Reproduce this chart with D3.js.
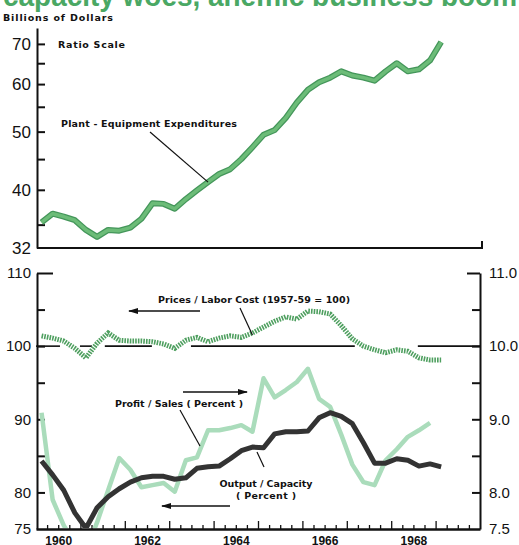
<!DOCTYPE html>
<html>
<head>
<meta charset="utf-8">
<script src="https://cdn.jsdelivr.net/npm/d3@7"></script>
<style>
  body { margin: 0; background: #fff; }
  svg { display: block; }
  text { font-family: "Liberation Sans", Arial, sans-serif; }
  text.note { font-family: "DejaVu Sans", sans-serif; font-weight: bold; }
</style>
</head>
<body>
<svg id="chart" width="519" height="545"></svg>
<script>
// quarterly observations, 1960 Q1 .. 1969 Q1
const years = [1960, 1961, 1962, 1963, 1964, 1965, 1966, 1967, 1968, 1969];
const quarters = [1, 2, 3, 4];

// billions of dollars (ratio scale)
const plantEquip = [35.3, 36.5, 36.1, 35.6, 34.3, 33.4, 34.3, 34.2, 34.6, 35.8,
  38.0, 37.9, 37.2, 38.6, 39.9, 41.2, 42.5, 43.3, 45.0, 47.1,
  49.4, 50.3, 52.7, 55.9, 58.7, 60.4, 61.5, 63.0, 62.0, 61.5,
  60.8, 63.0, 65.0, 63.0, 63.5, 65.7, 70.5];

// index, 1957-59 = 100
const pricesLabor = [101.4, 101.1, 100.7, 99.7, 98.4, 100.4, 101.8, 100.8, 100.7, 100.7,
  100.6, 100.3, 99.7, 100.8, 101.2, 100.6, 101.1, 101.4, 101.2, 101.8,
  102.6, 103.4, 104.0, 103.7, 104.8, 104.7, 104.4, 102.8, 101.0, 100.0,
  99.5, 99.1, 99.5, 99.3, 98.4, 98.1, 98.1];

// percent
const outputCapacity = [84.3, 82.4, 80.3, 77.2, 75.1, 77.9, 79.4, 80.5, 81.4, 82.0,
  82.2, 82.2, 81.8, 82.0, 83.3, 83.5, 83.6, 84.6, 85.7, 86.2,
  86.1, 88.0, 88.3, 88.3, 88.4, 90.2, 90.9, 90.4, 89.4, 86.8,
  84.0, 84.0, 84.6, 84.4, 83.6, 83.9, 83.5];

// percent, through 1968 Q4 (right scale)
const profitSales = [9.09, 7.90, 7.55, 7.30, 7.20, 7.59, 8.03, 8.47, 8.31, 8.07,
  8.10, 8.13, 8.01, 8.44, 8.48, 8.85, 8.85, 8.88, 8.92, 8.83,
  9.56, 9.30, 9.40, 9.51, 9.69, 9.28, 9.17, 8.79, 8.38, 8.14,
  8.10, 8.44, 8.59, 8.76, 8.85, 8.95];

// stretches of the 100 reference line (years)
const refSegments = [[1960.0, 1960.54], [1960.99, 1961.26], [1961.55, 1962.61],
  [1963.49, 1967.18], [1968.6, 1970.0]];

const topTicks = [35, 40, 45, 50, 55, 60, 65, 70];
const topLabels = [40, 50, 60, 70];
const leftTicks = [80, 85, 90, 95, 100, 105, 110];
const rightTicks = [8.0, 8.5, 9.0, 9.5, 10.0, 10.5, 11.0];
const yearLabels = [1960, 1962, 1964, 1966, 1968];

const periods = [];
years.forEach(y => quarters.forEach(q => periods.push(y + (q - 0.5) / 4)));

const svg = d3.select("#chart");
const green = "#4aa864";

// scales
const x = d3.scaleLinear().domain([1960, 1970]).range([36, 480]);
const yTop = d3.scaleLog().domain([32, 74.4]).range([248, 28]);
const yBot = d3.scaleLinear().domain([75, 110]).range([529, 273]);
const yRight = d3.scaleLinear().domain([7.5, 11]).range([529, 273]);

const note = (g, tx, ty, s, len, anchor) => g.append("text")
  .attr("class", "note")
  .attr("x", tx).attr("y", ty).attr("text-anchor", anchor || "start")
  .attr("font-size", 9.5).attr("fill", "#111")
  .attr("textLength", len)
  .text(s);

// headline, cut off at top
svg.append("text")
  .attr("x", 3).attr("y", 6)
  .attr("font-size", 30).attr("font-weight", "bold")
  .attr("fill", green)
  .attr("textLength", 514).attr("lengthAdjust", "spacingAndGlyphs")
  .text("capacity woes, anemic business boom");

note(svg, 3, 21, "Billions of Dollars", 110);

// ---- top panel ----
const upper = svg.append("g");
const topAxis = upper.append("g")
  .attr("transform", `translate(${x(1960) + 1},0)`)
  .call(d3.axisLeft(yTop)
    .tickValues(topTicks)
    .tickSize(-8).tickSizeOuter(0).tickPadding(6)
    .tickFormat(d => topLabels.includes(d) ? d : ""));
topAxis.append("text")
  .attr("x", -6).attr("y", yTop(32)).attr("dy", "0.35em")
  .attr("text-anchor", "end")
  .text("32");
topAxis.selectAll("text").attr("font-size", 17).attr("fill", "#111");
topAxis.selectAll("path,line").attr("stroke", "#111").attr("stroke-width", 2);

upper.append("path")
  .attr("d", d3.line()([[x(1960) + 1, yTop(32)], [x(1970) + 2, yTop(32)], [x(1970) + 2, yTop(32) - 7]]))
  .attr("fill", "none").attr("stroke", "#111").attr("stroke-width", 2);

const lineTop = d3.line()
  .x((d, i) => x(periods[i]))
  .y(d => yTop(d));
upper.append("path").datum(plantEquip)
  .attr("d", lineTop).attr("fill", "none")
  .attr("stroke", "#44965a").attr("stroke-width", 6)
  .attr("stroke-linejoin", "round");
upper.append("path").datum(plantEquip)
  .attr("d", lineTop).attr("fill", "none")
  .attr("stroke", "#6cbc78").attr("stroke-width", 3.5)
  .attr("stroke-linejoin", "round");

note(upper, 58, 48, "Ratio Scale", 67);
note(upper, 61, 127, "Plant - Equipment  Expenditures", 176);
upper.append("line")
  .attr("x1", 150).attr("y1", 132).attr("x2", x(periods[15])).attr("y2", yTop(plantEquip[15]))
  .attr("stroke", "#111").attr("stroke-width", 1.2);

// ---- bottom panel ----
const lower = svg.append("g");

const leftAxis = lower.append("g")
  .attr("transform", `translate(${x(1960) + 1},0)`)
  .call(d3.axisLeft(yBot)
    .tickValues(leftTicks)
    .tickSize(-8).tickSizeOuter(0).tickPadding(6)
    .tickFormat(d => d % 10 === 0 ? d : ""));
leftAxis.append("text")
  .attr("x", -6).attr("y", yBot(75)).attr("dy", "0.35em")
  .attr("text-anchor", "end")
  .text("75");
leftAxis.selectAll(".tick").filter(d => d === 110).select("line").attr("x2", 16);

const rightAxis = lower.append("g")
  .attr("transform", `translate(${x(1970)},0)`)
  .call(d3.axisRight(yRight)
    .tickValues(rightTicks)
    .tickSize(-8).tickSizeOuter(0).tickPadding(9)
    .tickFormat(d => Number.isInteger(d) ? d3.format(".1f")(d) : ""));
rightAxis.append("text")
  .attr("x", 9).attr("y", yRight(7.5)).attr("dy", "0.35em")
  .text("7.5");
rightAxis.selectAll(".tick").filter(d => d === 11).select("line").attr("x2", -13);

[leftAxis, rightAxis].forEach(a => {
  a.selectAll("text").attr("font-size", 15).attr("fill", "#111");
  a.selectAll("path,line").attr("stroke", "#111").attr("stroke-width", 2);
});

// time axis
const quarterTicks = d3.range(40).map(i => 1960 + i / 4).filter(d => d > 1960);
const xAxis = lower.append("g")
  .attr("transform", `translate(0,${yBot(75)})`)
  .call(d3.axisBottom(x).tickValues(quarterTicks).tickSize(-4).tickSizeOuter(0).tickFormat(""));
xAxis.selectAll(".tick").filter(d => Number.isInteger(d)).select("line").attr("y2", -8);
xAxis.selectAll("path,line").attr("stroke", "#111");
xAxis.select("path").attr("stroke-width", 2.5);
xAxis.selectAll("line").attr("stroke-width", 1.3);

lower.append("g")
  .attr("transform", `translate(0,${yBot(75)})`)
  .call(d3.axisBottom(x).tickValues(yearLabels.map(d => d + 0.5)).tickSize(0).tickPadding(7)
    .tickFormat(d => Math.floor(d)))
  .call(g => g.select(".domain").remove())
  .selectAll("text").attr("font-size", 12).attr("font-weight", "bold").attr("fill", "#111");

// 100 reference line
lower.selectAll(".ref").data(refSegments).join("line")
  .attr("class", "ref")
  .attr("x1", d => x(d[0])).attr("x2", d => x(d[1]))
  .attr("y1", yBot(100)).attr("y2", yBot(100))
  .attr("stroke", "#111").attr("stroke-width", 1.6);

lower.append("clipPath").attr("id", "plot")
  .append("rect").attr("x", x(1960)).attr("y", yBot(110))
  .attr("width", x(1970) - x(1960)).attr("height", yBot(75) - yBot(110) - 1);

const plot = lower.append("g").attr("clip-path", "url(#plot)");

plot.append("path").datum(profitSales)
  .attr("d", d3.line().x((d, i) => x(periods[i])).y(d => yRight(d)))
  .attr("fill", "none").attr("stroke", "#aadcbb").attr("stroke-width", 4.5)
  .attr("stroke-linejoin", "round");

plot.append("path").datum(outputCapacity)
  .attr("d", d3.line().x((d, i) => x(periods[i])).y(d => yBot(d)))
  .attr("fill", "none").attr("stroke", "#333").attr("stroke-width", 5)
  .attr("stroke-linejoin", "round");

plot.append("path").datum(pricesLabor)
  .attr("d", d3.line().x((d, i) => x(periods[i])).y(d => yBot(d)))
  .attr("fill", "none").attr("stroke", "#4e9f5f").attr("stroke-width", 5)
  .attr("stroke-dasharray", "1.6,1.1");

// annotations
svg.append("defs").append("marker")
  .attr("id", "arrow").attr("viewBox", "0 0 10 6")
  .attr("refX", 9).attr("refY", 3)
  .attr("markerWidth", 10).attr("markerHeight", 6)
  .attr("markerUnits", "userSpaceOnUse").attr("orient", "auto")
  .append("path").attr("d", "M0,0L10,3L0,6Z").attr("fill", "#111");

const arrow = (x1, y1, x2, y2) => lower.append("line")
  .attr("x1", x1).attr("y1", y1).attr("x2", x2).attr("y2", y2)
  .attr("stroke", "#111").attr("stroke-width", 1.3)
  .attr("marker-end", "url(#arrow)");
const leader = (x1, y1, x2, y2) => lower.append("line")
  .attr("x1", x1).attr("y1", y1).attr("x2", x2).attr("y2", y2)
  .attr("stroke", "#111").attr("stroke-width", 1.2);

note(lower, 158, 303, "Prices / Labor Cost  (1957-59 = 100)", 192);
arrow(200, 311, 129, 311);
leader(240, 308, x(periods[19]), yBot(pricesLabor[19]) + 2);

note(lower, 115, 407, "Profit / Sales  ( Percent )", 128);
arrow(183, 392, 247, 392);
leader(180, 410, 200, 446);

note(lower, 266, 487, "Output / Capacity", 93, "middle");
note(lower, 266, 499, "( Percent )", 60, "middle");
arrow(230, 506, 162, 506);
leader(257, 452, 264, 467);
</script>
</body>
</html>
